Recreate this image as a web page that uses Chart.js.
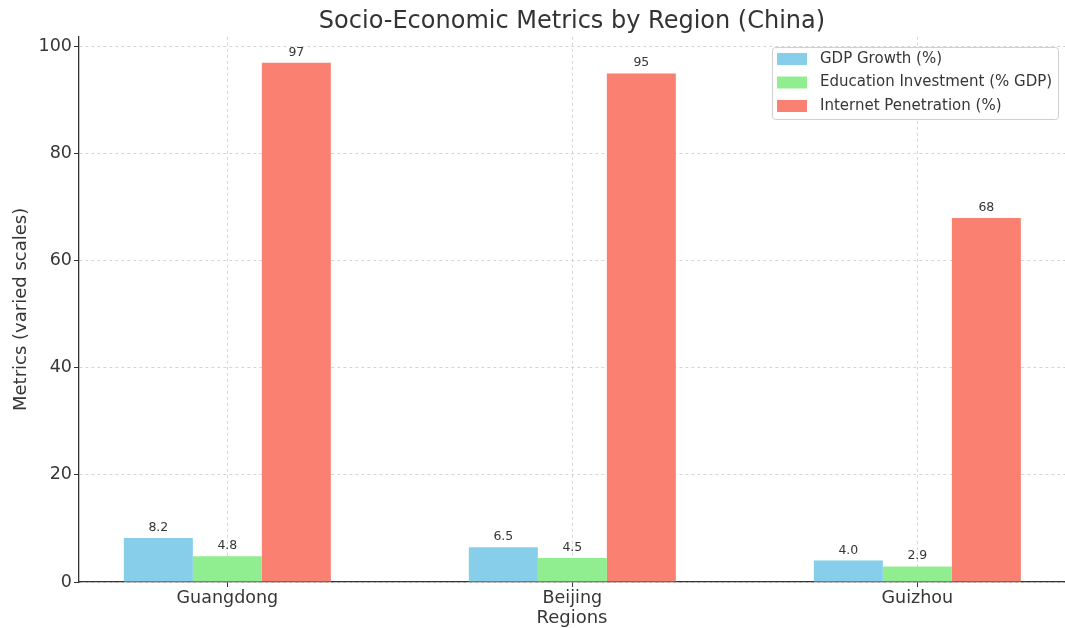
<!DOCTYPE html>
<html>
<head>
<meta charset="utf-8">
<script src="https://cdn.jsdelivr.net/npm/chart.js@4"></script>
<style>
  html, body { margin: 0; padding: 0; background: #fff; }
  #wrap { width: 1065px; height: 628px; position: relative; }
</style>
</head>
<body>
<div id="wrap"><canvas id="chart"></canvas></div>
<script>
const regions = ['Guangdong', 'Beijing', 'Guizhou'];
const gdpGrowth = [8.2, 6.5, 4.0];
const eduInvestment = [4.8, 4.5, 2.9];
const internetPen = [97, 95, 68];
const seriesNames = ['GDP Growth (%)', 'Education Investment (% GDP)', 'Internet Penetration (%)'];
const seriesDecimals = [1, 1, 0];
const yTickValues = [0, 20, 40, 60, 80, 100];

const FONT = "'DejaVu Sans', sans-serif";
const TEXT = '#363636';
const colors = ['#87CEEB', '#90EE90', '#FA8072'];

const toPoints = arr => arr.map((v, i) => ({ x: i, y: v }));

// value labels above each bar
const barLabels = {
    id: 'barLabels',
    afterDatasetsDraw(chart) {
        const { ctx } = chart;
        ctx.save();
        ctx.font = '12.5px ' + FONT;
        ctx.fillStyle = TEXT;
        ctx.textAlign = 'center';
        ctx.textBaseline = 'bottom';
        chart.data.datasets.forEach((ds, di) => {
            chart.getDatasetMeta(di).data.forEach((bar, i) => {
                const v = ds.data[i].y;
                ctx.fillText(v.toFixed(seriesDecimals[di]), bar.x, bar.y - 4);
            });
        });
        ctx.restore();
    }
};

// legend box in the upper right of the plot
const boxLegend = {
    id: 'boxLegend',
    afterDraw(chart) {
        const { ctx } = chart;
        const x = 772, y = 47, w = 286, h = 72;
        ctx.save();
        ctx.fillStyle = 'rgba(255,255,255,0.85)';
        ctx.strokeStyle = '#d0d0d0';
        ctx.lineWidth = 1;
        ctx.beginPath();
        ctx.roundRect(x + 0.5, y + 0.5, w, h, 3);
        ctx.fill();
        ctx.stroke();
        ctx.font = '15px ' + FONT;
        ctx.textBaseline = 'middle';
        chart.data.datasets.forEach((ds, i) => {
            const cy = y + 12 + i * 23.5;
            ctx.fillStyle = ds.backgroundColor;
            ctx.fillRect(x + 5, cy - 6, 30, 12);
            ctx.fillStyle = TEXT;
            ctx.fillText(ds.label, x + 48, cy);
        });
        ctx.restore();
    }
};

const gridStyle = {
    color: 'rgba(190,190,190,0.8)',
    lineWidth: 0.8,
    offset: false,
    tickLength: 5,
    tickColor: '#333',
    tickWidth: 1
};

new Chart(document.getElementById('chart'), {
    type: 'bar',
    data: {
        datasets: [gdpGrowth, eduInvestment, internetPen].map((arr, i) => ({
            label: seriesNames[i],
            data: toPoints(arr),
            backgroundColor: colors[i],
            borderWidth: 0,
            categoryPercentage: 0.6,
            barPercentage: 1.0
        }))
    },
    options: {
        responsive: true,
        maintainAspectRatio: false,
        animation: false,
        layout: { padding: 0 },
        plugins: {
            legend: { display: false },
            tooltip: { enabled: false },
            title: {
                display: true,
                fullSize: false,
                text: 'Socio-Economic Metrics by Region (China)',
                color: '#333',
                font: { family: FONT, size: 24, weight: 'normal' },
                padding: { top: 7, bottom: 1 }
            }
        },
        scales: {
            x: {
                type: 'linear',
                offset: false,
                min: -0.43,
                max: 2.428,
                z: 1,
                grid: gridStyle,
                border: { display: true, color: '#333', width: 1.3, dash: [3, 3] },
                afterBuildTicks: scale => {
                    scale.ticks = regions.map((r, i) => ({ value: i }));
                },
                afterFit: scale => { scale.height = 46; },
                ticks: {
                    color: TEXT,
                    padding: 1,
                    maxRotation: 0,
                    autoSkip: false,
                    font: { family: FONT, size: 17.5 },
                    callback: v => regions[v]
                },
                title: {
                    display: true,
                    text: 'Regions',
                    color: TEXT,
                    font: { family: FONT, size: 18 },
                    padding: { top: 0, bottom: -1 }
                }
            },
            y: {
                min: 0,
                max: 101.85,
                z: 1,
                grid: gridStyle,
                border: { display: true, color: '#333', width: 1.3, dash: [3, 3] },
                afterBuildTicks: scale => {
                    scale.ticks = yTickValues.map(v => ({ value: v }));
                },
                afterFit: scale => { scale.width = 79; },
                ticks: {
                    color: TEXT,
                    padding: 2,
                    font: { family: FONT, size: 17.5 }
                },
                title: {
                    display: true,
                    text: 'Metrics (varied scales)',
                    color: TEXT,
                    font: { family: FONT, size: 18 },
                    padding: { top: 11, bottom: 0 }
                }
            }
        }
    },
    plugins: [barLabels, boxLegend]
});
</script>
</body>
</html>
